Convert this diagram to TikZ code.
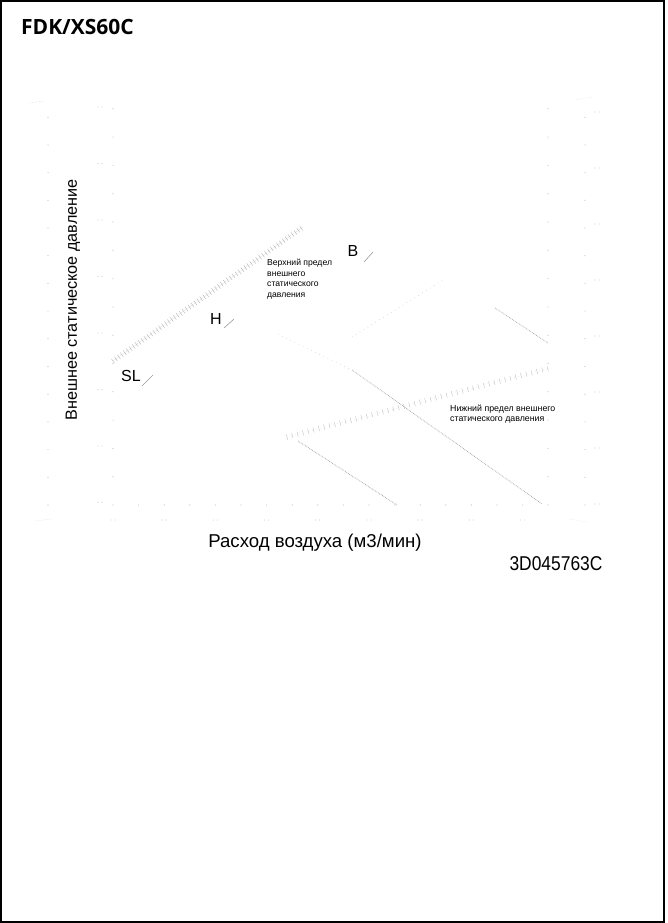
\documentclass[tikz,border=0pt]{standalone}
\usepackage{fontspec}
\usepackage{graphicx}
\setmainfont{Liberation Sans}
\newfontfamily\headfont{Open Sans}
\usetikzlibrary{decorations.pathreplacing}

\begin{document}
\begin{tikzpicture}[x=1pt,y=-1pt,
    gdot/.style={gray!50},
    fancurve/.style={gray!75,densely dotted,line width=0.7pt},
    fanghost/.style={gray!45,loosely dotted,line width=0.6pt},
    limitline/.style={gray!65,line width=0.35pt,decorate,decoration={ticks,segment length=3.6pt,amplitude=2.6pt}},
    lowlimit/.style={gray!55,line width=0.35pt,decorate,decoration={ticks,segment length=5.5pt,amplitude=2.6pt}},
    note/.style={font=\fontsize{8.6}{10.7}\selectfont,align=left,anchor=north west,inner sep=0pt},
    speed/.style={font=\fontsize{16}{16}\selectfont,inner sep=0pt},
    leader/.style={line width=0.6pt,gray!80}]
  \useasboundingbox (0,0) rectangle (667,923);
  % Frame
  \draw[line width=2.2pt] (1.1,1.1) rectangle (664,921.9);
  \node[anchor=base west,inner sep=0pt,font=\headfont\bfseries\fontsize{21}{21}\selectfont] (title) at (21,35) {FDK/XS60C};

  % Faint grid dots
  \foreach \k in {0,...,14} {
    \fill[gdot] (113,505-28.3*\k) circle (0.6);
    \fill[gdot] (548,505-28.3*\k) circle (0.6);
    \fill[gdot] (48,505-27.7*\k) circle (0.6);
    \fill[gdot] (585,505-27.7*\k) circle (0.6);
  }
  \foreach \k in {1,...,16} \fill[gdot] (113+25.6*\k,505) circle (0.6);
  % Illegible scale marks
  \foreach \k in {0,...,7} {
    \fill[gray!35] (98,107+56.5*\k) circle (0.6) (102,107+56.5*\k) circle (0.6);
    \fill[gray!35] (595,112+56*\k) circle (0.6) (599,112+56*\k) circle (0.6);
  }
  \foreach \k in {0,...,8} \fill[gray!35] (111+51.2*\k,520) circle (0.6) (115+51.2*\k,520) circle (0.6);
  \draw[gray!35,densely dotted] (28,103) -- (44,101);
  \draw[gray!35,densely dotted] (575,100) -- (592,97);
  \draw[gray!35,densely dotted] (35,521) -- (52,519);
  \draw[gray!35,densely dotted] (570,519) -- (587,522);

  % Axis titles
  \node[rotate=90,inner sep=0pt,font=\fontsize{16.2}{16.2}\selectfont] (ylabel) at (73,300) {Внешнее статическое давление};
  \node[anchor=base,inner sep=0pt,font=\fontsize{18.6}{18.6}\selectfont] (xlabel) at (315,547) {Расход воздуха (м3/мин)};
  \node[anchor=base,inner sep=0pt,font=\fontsize{20}{20}\selectfont] (code) at (556,570) {\scalebox{0.87}[1]{3D045763C}};

  % Limit lines
  \coordinate (upA) at (113,361);
  \coordinate (upB) at (303,227);
  \coordinate (loA) at (287,437);
  \coordinate (loB) at (550,368);
  \draw[limitline] (upA) -- (upB);
  \draw[gray!65,line width=0.35pt,densely dotted] (upA) -- (upB);
  \draw[lowlimit] (loA) -- (loB);
  \draw[gray!55,line width=0.35pt,loosely dotted] (loA) -- (loB);

  % Fan curves
  \coordinate (slA) at (298,441);
  \coordinate (slB) at (397,505);
  \coordinate (hA) at (278,334);
  \coordinate (hM) at (352,370);
  \coordinate (hB) at (542,504);
  \coordinate (bA) at (495,308);
  \coordinate (bB) at (548,343);
  \coordinate (bgA) at (352,337);
  \coordinate (bgB) at (443,280);
  \draw[fancurve] (slA) -- (slB);
  \draw[fanghost] (hA) -- (hM);
  \draw[fancurve] (hM) -- (hB);
  \draw[fancurve] (bA) -- (bB);
  \draw[fanghost] (bgA) -- (bgB);

  % Speed labels
  \node[speed] (spdB) at (353,251) {B};
  \node[speed] (spdH) at (216,318.5) {H};
  \node[speed] (spdSL) at (131,376) {SL};
  \coordinate (lbB1) at (364,262);  \coordinate (lbB2) at (373,252);
  \coordinate (lbH1) at (224,328);  \coordinate (lbH2) at (234,319);
  \coordinate (lbS1) at (142,386);  \coordinate (lbS2) at (153,375);
  \draw[leader] (lbB1) -- (lbB2);
  \draw[leader] (lbH1) -- (lbH2);
  \draw[leader] (lbS1) -- (lbS2);

  % Limit notes
  \node[note] (upnote) at (267,259) {Верхний предел\\внешнего\\статического\\давления};
  \node[note,font=\fontsize{8.8}{10}\selectfont] (lonote) at (450,405) {Нижний предел внешнего\\статического давления};
\end{tikzpicture}
\end{document}
